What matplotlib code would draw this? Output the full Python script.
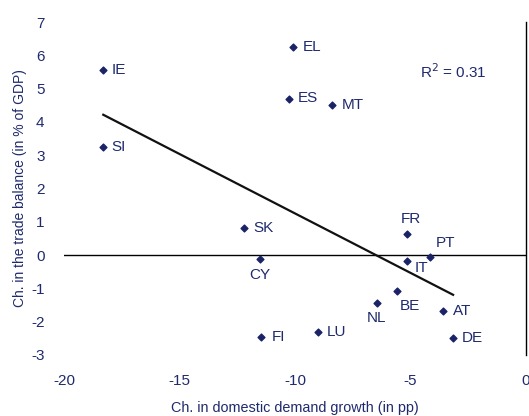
import numpy as np
import matplotlib
matplotlib.use("Agg")
import matplotlib.pyplot as plt

plt.rcParams['font.family'] = ['Liberation Sans', 'DejaVu Sans']
plt.rcParams['axes.unicode_minus'] = False

# data
countries = ['IE', 'SI', 'EL', 'ES', 'MT', 'SK', 'CY', 'FI', 'LU',
             'NL', 'BE', 'FR', 'IT', 'PT', 'AT', 'DE']
demand_growth = [-18.3, -18.3, -10.1, -10.25, -8.4, -12.2, -11.5, -11.45, -9.0,
                 -6.45, -5.6, -5.15, -5.15, -4.15, -3.6, -3.15]
trade_balance = [5.55, 3.25, 6.25, 4.7, 4.5, 0.82, -0.12, -2.45, -2.32,
                 -1.45, -1.08, 0.62, -0.18, -0.06, -1.68, -2.5]

# label offsets (pixels) and alignment for each country
label_pos = {
    'IE': (8, 0, 'left'), 'SI': (8, 0, 'left'), 'EL': (10, 0, 'left'),
    'ES': (9, 1, 'left'), 'MT': (10, 0, 'left'), 'SK': (9, 0, 'left'),
    'CY': (0, -16, 'center'), 'FI': (10, 0, 'left'), 'LU': (9, 0, 'left'),
    'NL': (0, -15, 'center'), 'BE': (13, -15, 'center'), 'FR': (4, 15, 'center'),
    'IT': (15, -7, 'center'), 'PT': (16, 14, 'center'), 'AT': (10, 0, 'left'),
    'DE': (9, 0, 'left'),
}

navy = '#1f2a6e'

fig = plt.figure(figsize=(5.29, 4.16), dpi=100)
ax = fig.add_axes([0.121, 0.147, 0.873, 0.8])

ax.scatter(demand_growth, trade_balance, marker='D', s=12, color='#1a2366', zorder=3)

for c, x, y in zip(countries, demand_growth, trade_balance):
    dx, dy, ha = label_pos[c]
    ax.annotate(c, (x, y), xytext=(dx, dy), textcoords='offset pixels',
                ha=ha, va='center', fontsize=11, color=navy)

# linear trend
slope, intercept = np.polyfit(demand_growth, trade_balance, 1)
xs = np.array([min(demand_growth), max(demand_growth)])
ax.plot(xs, slope * xs + intercept, color='#111111', lw=1.6, zorder=2)

ax.text(-4.6, 5.5, r'R$^2$ = 0.31', fontsize=11, color=navy, va='center', ha='left')

ax.axhline(0, color='black', lw=1, zorder=1)
ax.axvline(0, color='black', lw=1, zorder=1, clip_on=False)

ax.set_xlim(-20, 0)
ax.set_ylim(-3, 7)
ax.set_xticks([-20, -15, -10, -5, 0])
ax.set_yticks(range(-3, 8))
for s in ax.spines.values():
    s.set_visible(False)
ax.tick_params(length=0, labelsize=11, labelcolor=navy)
ax.tick_params(axis='x', pad=14)
ax.tick_params(axis='y', pad=14)

ax.set_xlabel('Ch. in domestic demand growth (in pp)', fontsize=10.4, color=navy, labelpad=9)
ax.set_ylabel('Ch. in the trade balance (in % of GDP)', fontsize=10, color=navy, labelpad=3)

fig.savefig('out.png', dpi=100)
